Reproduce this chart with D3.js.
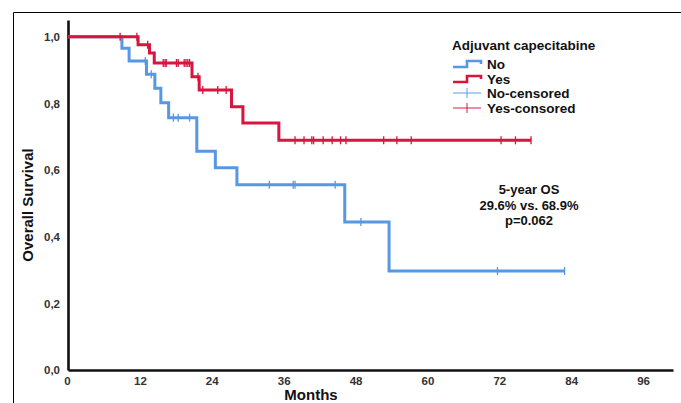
<!DOCTYPE html>
<html><head><meta charset="utf-8">
<script src="https://cdn.jsdelivr.net/npm/d3@7"></script>
<style>
html,body{margin:0;padding:0;background:#fff;}
svg{display:block;font-family:Arial,"Liberation Sans",sans-serif;}
</style></head>
<body>
<svg id="chart" width="681" height="403"></svg>
<script>
// ---- data ----
const xTicks = [0,12,24,36,48,60,72,84,96];
const yTicks = [0,0.2,0.4,0.6,0.8,1.0];

const noTimes = [9.0,10.2,13.1,14.5,15.5,16.8,21.5,24.6,28.2,46.2,53.6];
const noSurv  = [0.965,0.927,0.887,0.845,0.802,0.757,0.656,0.607,0.556,0.444,0.297];
const noEnd = 82.9;
const noCensor = [12.9,13.9,17.6,18.4,20.3,33.6,37.6,37.9,44.6,48.9,71.7,82.9];

const yesTimes = [11.7,13.6,14.4,20.7,21.9,27.3,29.2,35.2];
const yesSurv  = [0.976,0.951,0.921,0.880,0.840,0.790,0.741,0.689];
const yesEnd = 77.3;
const yesCensor = [8.7,11.5,13.3,15.9,16.2,16.4,18.1,18.4,19.4,19.7,20.0,20.3,21.7,22.5,25.0,26.4,37.9,39.4,40.7,41.0,42.6,44.1,45.5,46.4,52.7,54.9,57.3,72.3,74.7,77.3];

const legendTitle = "Adjuvant capecitabine";
const legendLabels = ["No","Yes","No-censored","Yes-consored"];
const annotation = ["5-year OS","29.6% vs. 68.9%","p=0.062"];

const BLUE = "#5798e4", RED = "#d8143f";

const svg = d3.select("#chart");
// outer frame (left & top edges)
svg.append("line").attr("x1",13.5).attr("x2",13.5).attr("y1",12.5).attr("y2",403).attr("stroke","#000").attr("stroke-width",1);
svg.append("line").attr("x1",13.5).attr("x2",681).attr("y1",12.5).attr("y2",12.5).attr("stroke","#000").attr("stroke-width",1);

const x = d3.scaleLinear().domain([0,101]).range([68,673]);
const y = d3.scaleLinear().domain([0,1.05]).range([370,20]);

// axes
const xAxis = d3.axisBottom(x).tickValues(xTicks).tickSize(0).tickPadding(7).tickFormat(d3.format("d"));
const gx = svg.append("g").attr("transform","translate(0,370)").call(xAxis);
const yAxis = d3.axisLeft(y).tickValues(yTicks).tickSize(0).tickPadding(8).tickFormat(d => d3.format(".1f")(d).replace(".",","));
const gy = svg.append("g").attr("transform","translate(68,0)").call(yAxis);
[gx,gy].forEach(g=>{
  g.select(".domain").attr("stroke","#111").attr("stroke-width",2.6);
  g.selectAll(".tick text").attr("font-size",11.5).attr("font-weight","bold").attr("fill","#333").attr("font-family","Arial, 'Liberation Sans', sans-serif");
});
gx.selectAll(".tick text").attr("dx", d => d===0 ? -1 : 0);

// axis titles
svg.append("text").attr("x",311).attr("y",400).attr("text-anchor","middle")
  .attr("font-size",15).attr("font-weight","bold").attr("fill","#111").text("Months");
svg.append("text").attr("transform","translate(33,205) rotate(-90)").attr("text-anchor","middle")
  .attr("font-size",15).attr("font-weight","bold").attr("fill","#111").text("Overall Survival");

// curves
function stepPoints(times, surv, end){
  const pts = [[0,1]];
  times.forEach((t,i)=>pts.push([t,surv[i]]));
  pts.push([end, surv[surv.length-1]]);
  return pts;
}
function survAt(times, surv, t){
  let s = 1;
  times.forEach((tt,i)=>{ if (tt <= t) s = surv[i]; });
  return s;
}
const line = d3.line().x(d=>x(d[0])).y(d=>y(d[1])).curve(d3.curveStepAfter);

function drawGroup(times, surv, end, censor, color){
  svg.append("path").datum(stepPoints(times,surv,end))
    .attr("d",line).attr("fill","none").attr("stroke",color).attr("stroke-width",3);
  svg.append("g").selectAll("line").data(censor).join("line")
    .attr("x1",d=>x(d)).attr("x2",d=>x(d))
    .attr("y1",d=>y(survAt(times,surv,d))-4).attr("y2",d=>y(survAt(times,surv,d))+4)
    .attr("stroke",color).attr("stroke-width",1.3);
}
drawGroup(noTimes,noSurv,noEnd,noCensor,BLUE);
drawGroup(yesTimes,yesSurv,yesEnd,yesCensor,RED);

// legend
const lg = svg.append("g");
lg.append("text").attr("x",452).attr("y",50).attr("font-size",13.5).attr("font-weight","bold").attr("fill","#111").text(legendTitle);
const rowsY = [64,79,93,108];
const colors = [BLUE,RED,BLUE,RED];
legendLabels.forEach((lab,i)=>{
  const cy = rowsY[i];
  if (i<2){
    lg.append("path").attr("d",`M453,${cy+3} L467,${cy+3} L467,${cy-3} L481,${cy-3} L481,${cy}`)
      .attr("fill","none").attr("stroke",colors[i]).attr("stroke-width",2.6);
  } else {
    lg.append("line").attr("x1",453).attr("x2",481).attr("y1",cy).attr("y2",cy).attr("stroke",colors[i]).attr("stroke-width",1.2).attr("opacity",0.8);
    lg.append("line").attr("x1",467).attr("x2",467).attr("y1",cy-5).attr("y2",cy+5).attr("stroke",colors[i]).attr("stroke-width",1.2).attr("opacity",0.8);
  }
  lg.append("text").attr("x",487).attr("y",cy+4.5).attr("font-size",13.5).attr("font-weight","bold").attr("fill","#111").text(lab);
});

// annotation
svg.append("g").selectAll("text").data(annotation).join("text")
  .attr("x",529).attr("y",(d,i)=>194+i*15.5).attr("text-anchor","middle")
  .attr("font-size",13).attr("font-weight","bold").attr("fill","#111").text(d=>d);
</script>
</body></html>
